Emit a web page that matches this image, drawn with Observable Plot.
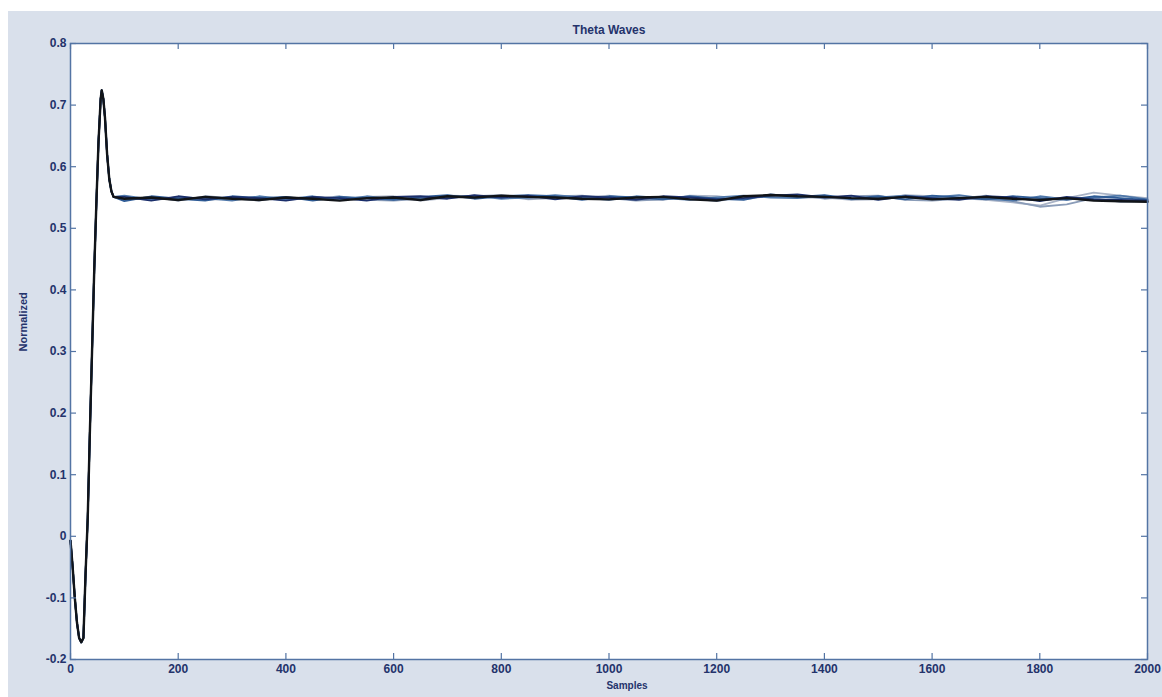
<!DOCTYPE html>
<html><head><meta charset="utf-8">
<script src="https://cdn.jsdelivr.net/npm/d3@7"></script>
<script src="https://cdn.jsdelivr.net/npm/@observablehq/plot@0.6"></script>
<style>
html,body{margin:0;padding:0;background:#fff;}
#chart svg{display:block;}
</style></head><body><div id="chart"></div><script>
const title = "Theta Waves";
const xLabel = "Samples";
const yLabel = "Normalized";
const xTicks = [0,200,400,600,800,1000,1200,1400,1600,1800,2000];
const yTicks = [-0.2,-0.1,0,0.1,0.2,0.3,0.4,0.5,0.6,0.7,0.8];

const transientSamples = [0,4,8,12,16,20,24,28,32,36,40,44,48,52,56,58,61,64,68,72,76,80];
const transientValues  = [-0.007,-0.05,-0.10,-0.14,-0.165,-0.172,-0.165,-0.06,0.03,0.17,0.30,0.43,0.54,0.64,0.71,0.724,0.71,0.68,0.62,0.58,0.56,0.551];

const flatSamples = [100,150,200,250,300,350,400,450,500,550,600,650,700,750,800,850,900,950,1000,1050,1100,1150,1200,1250,1300,1350,1400,1450,1500,1550,1600,1650,1700,1750,1800,1850,1900,1950,2000];

const seriesNames = ["S6","S5","S4","S3","S2","S1"];
const seriesColors = ["#a9b3c6","#8a9cb8","#4f78aa","#2f5c96","#1b2f6b","#111418"];

const s1 = [.548,.550,.546,.551,.548,.546,.550,.548,.545,.549,.550,.546,.552,.550,.553,.551,.550,.548,.547,.550,.551,.547,.545,.552,.554,.552,.551,.549,.548,.551,.547,.549,.551,.548,.546,.549,.545,.544,.543];
const s2 = [.551,.545,.552,.547,.551,.549,.545,.551,.549,.545,.551,.552,.548,.554,.550,.553,.547,.552,.550,.546,.552,.550,.547,.549,.553,.555,.550,.553,.546,.552,.549,.546,.552,.550,.544,.551,.547,.546,.545];
const s3 = [.544,.552,.548,.545,.552,.549,.551,.545,.551,.549,.546,.551,.554,.548,.552,.554,.552,.546,.552,.550,.547,.552,.548,.546,.555,.551,.554,.548,.552,.547,.553,.550,.547,.552,.549,.546,.552,.549,.546];
const s4 = [.553,.547,.550,.549,.545,.552,.547,.552,.546,.552,.547,.549,.550,.553,.548,.550,.554,.550,.546,.552,.549,.546,.550,.553,.550,.549,.553,.547,.550,.553,.550,.554,.548,.545,.552,.547,.550,.553,.547];
const s5 = [.546,.551,.545,.552,.549,.545,.551,.547,.552,.546,.545,.548,.553,.552,.554,.548,.552,.553,.549,.545,.547,.549,.544,.551,.552,.554,.548,.552,.553,.546,.545,.548,.553,.544,.535,.539,.549,.543,.544];
const s6 = [.549,.546,.549,.546,.548,.551,.546,.549,.547,.551,.552,.545,.549,.551,.553,.547,.549,.550,.553,.547,.546,.553,.552,.547,.553,.550,.550,.546,.547,.554,.552,.549,.546,.542,.537,.549,.558,.553,.549];
const seriesValues = {S1: s1, S2: s2, S3: s3, S4: s4, S5: s5, S6: s6};

const rows = [];
for (const name of seriesNames) {
  transientSamples.forEach((x, i) => rows.push({series: name, x, y: transientValues[i]}));
  flatSamples.forEach((x, i) => rows.push({series: name, x, y: seriesValues[name][i]}));
}

const W = 1162, H = 697, mL = 70, mR = 15, mT = 43, mB = 38;
const plotW = W - mL - mR, plotH = H - mT - mB;
const axisColor = "#5374a4";
const textColor = "#24336b";

const chart = Plot.plot({
  width: W, height: H,
  marginLeft: mL, marginRight: mR, marginTop: mT, marginBottom: mB,
  style: {
    fontFamily: "Liberation Sans, Arial, sans-serif",
    background: "linear-gradient(to bottom, #ffffff 11px, transparent 11px), linear-gradient(to right, #ffffff 8px, #d9e0eb 8px)",
    overflow: "visible"
  },
  x: {domain: [0, 2000]},
  y: {domain: [-0.2, 0.8]},
  color: {domain: seriesNames, range: seriesColors},
  marks: [
    Plot.frame({fill: "white"}),
    Plot.line(rows, {x: "x", y: "y", z: "series", stroke: "series", strokeWidth: d => d.series === "S1" ? 2.4 : 1.8}),
    Plot.frame({stroke: axisColor, strokeWidth: 1.5}),
    Plot.tickX(xTicks, {x: d => d, insetTop: plotH - 6, stroke: axisColor, strokeWidth: 1.2}),
    Plot.tickX(xTicks, {x: d => d, insetBottom: plotH - 6, stroke: axisColor, strokeWidth: 1.2}),
    Plot.tickY(yTicks, {y: d => d, insetRight: plotW - 6, stroke: axisColor, strokeWidth: 1.2}),
    Plot.tickY(yTicks, {y: d => d, insetLeft: plotW - 6, stroke: axisColor, strokeWidth: 1.2}),
    Plot.axisX({ticks: xTicks, tickSize: 0, tickPadding: 5, label: null, fontSize: 12, fontWeight: "bold", fill: textColor, tickFormat: d => String(d)}),
    Plot.axisY({ticks: yTicks, tickSize: 0, tickPadding: 4, label: null, fontSize: 12, fontWeight: "bold", fill: textColor, tickFormat: d => d === 0 ? "0" : d.toFixed(1)}),
    Plot.text([title], {frameAnchor: "top", dy: -18, fontSize: 12, fontWeight: "bold", fill: textColor}),
    Plot.text([xLabel], {frameAnchor: "bottom", dx: 18, dy: 29, fontSize: 10, fontWeight: "bold", fill: textColor}),
    Plot.text([yLabel], {frameAnchor: "left", dx: -47, rotate: -90, fontSize: 11, fontWeight: "bold", fill: textColor})
  ]
});
document.getElementById("chart").appendChild(chart);
</script></body></html>
